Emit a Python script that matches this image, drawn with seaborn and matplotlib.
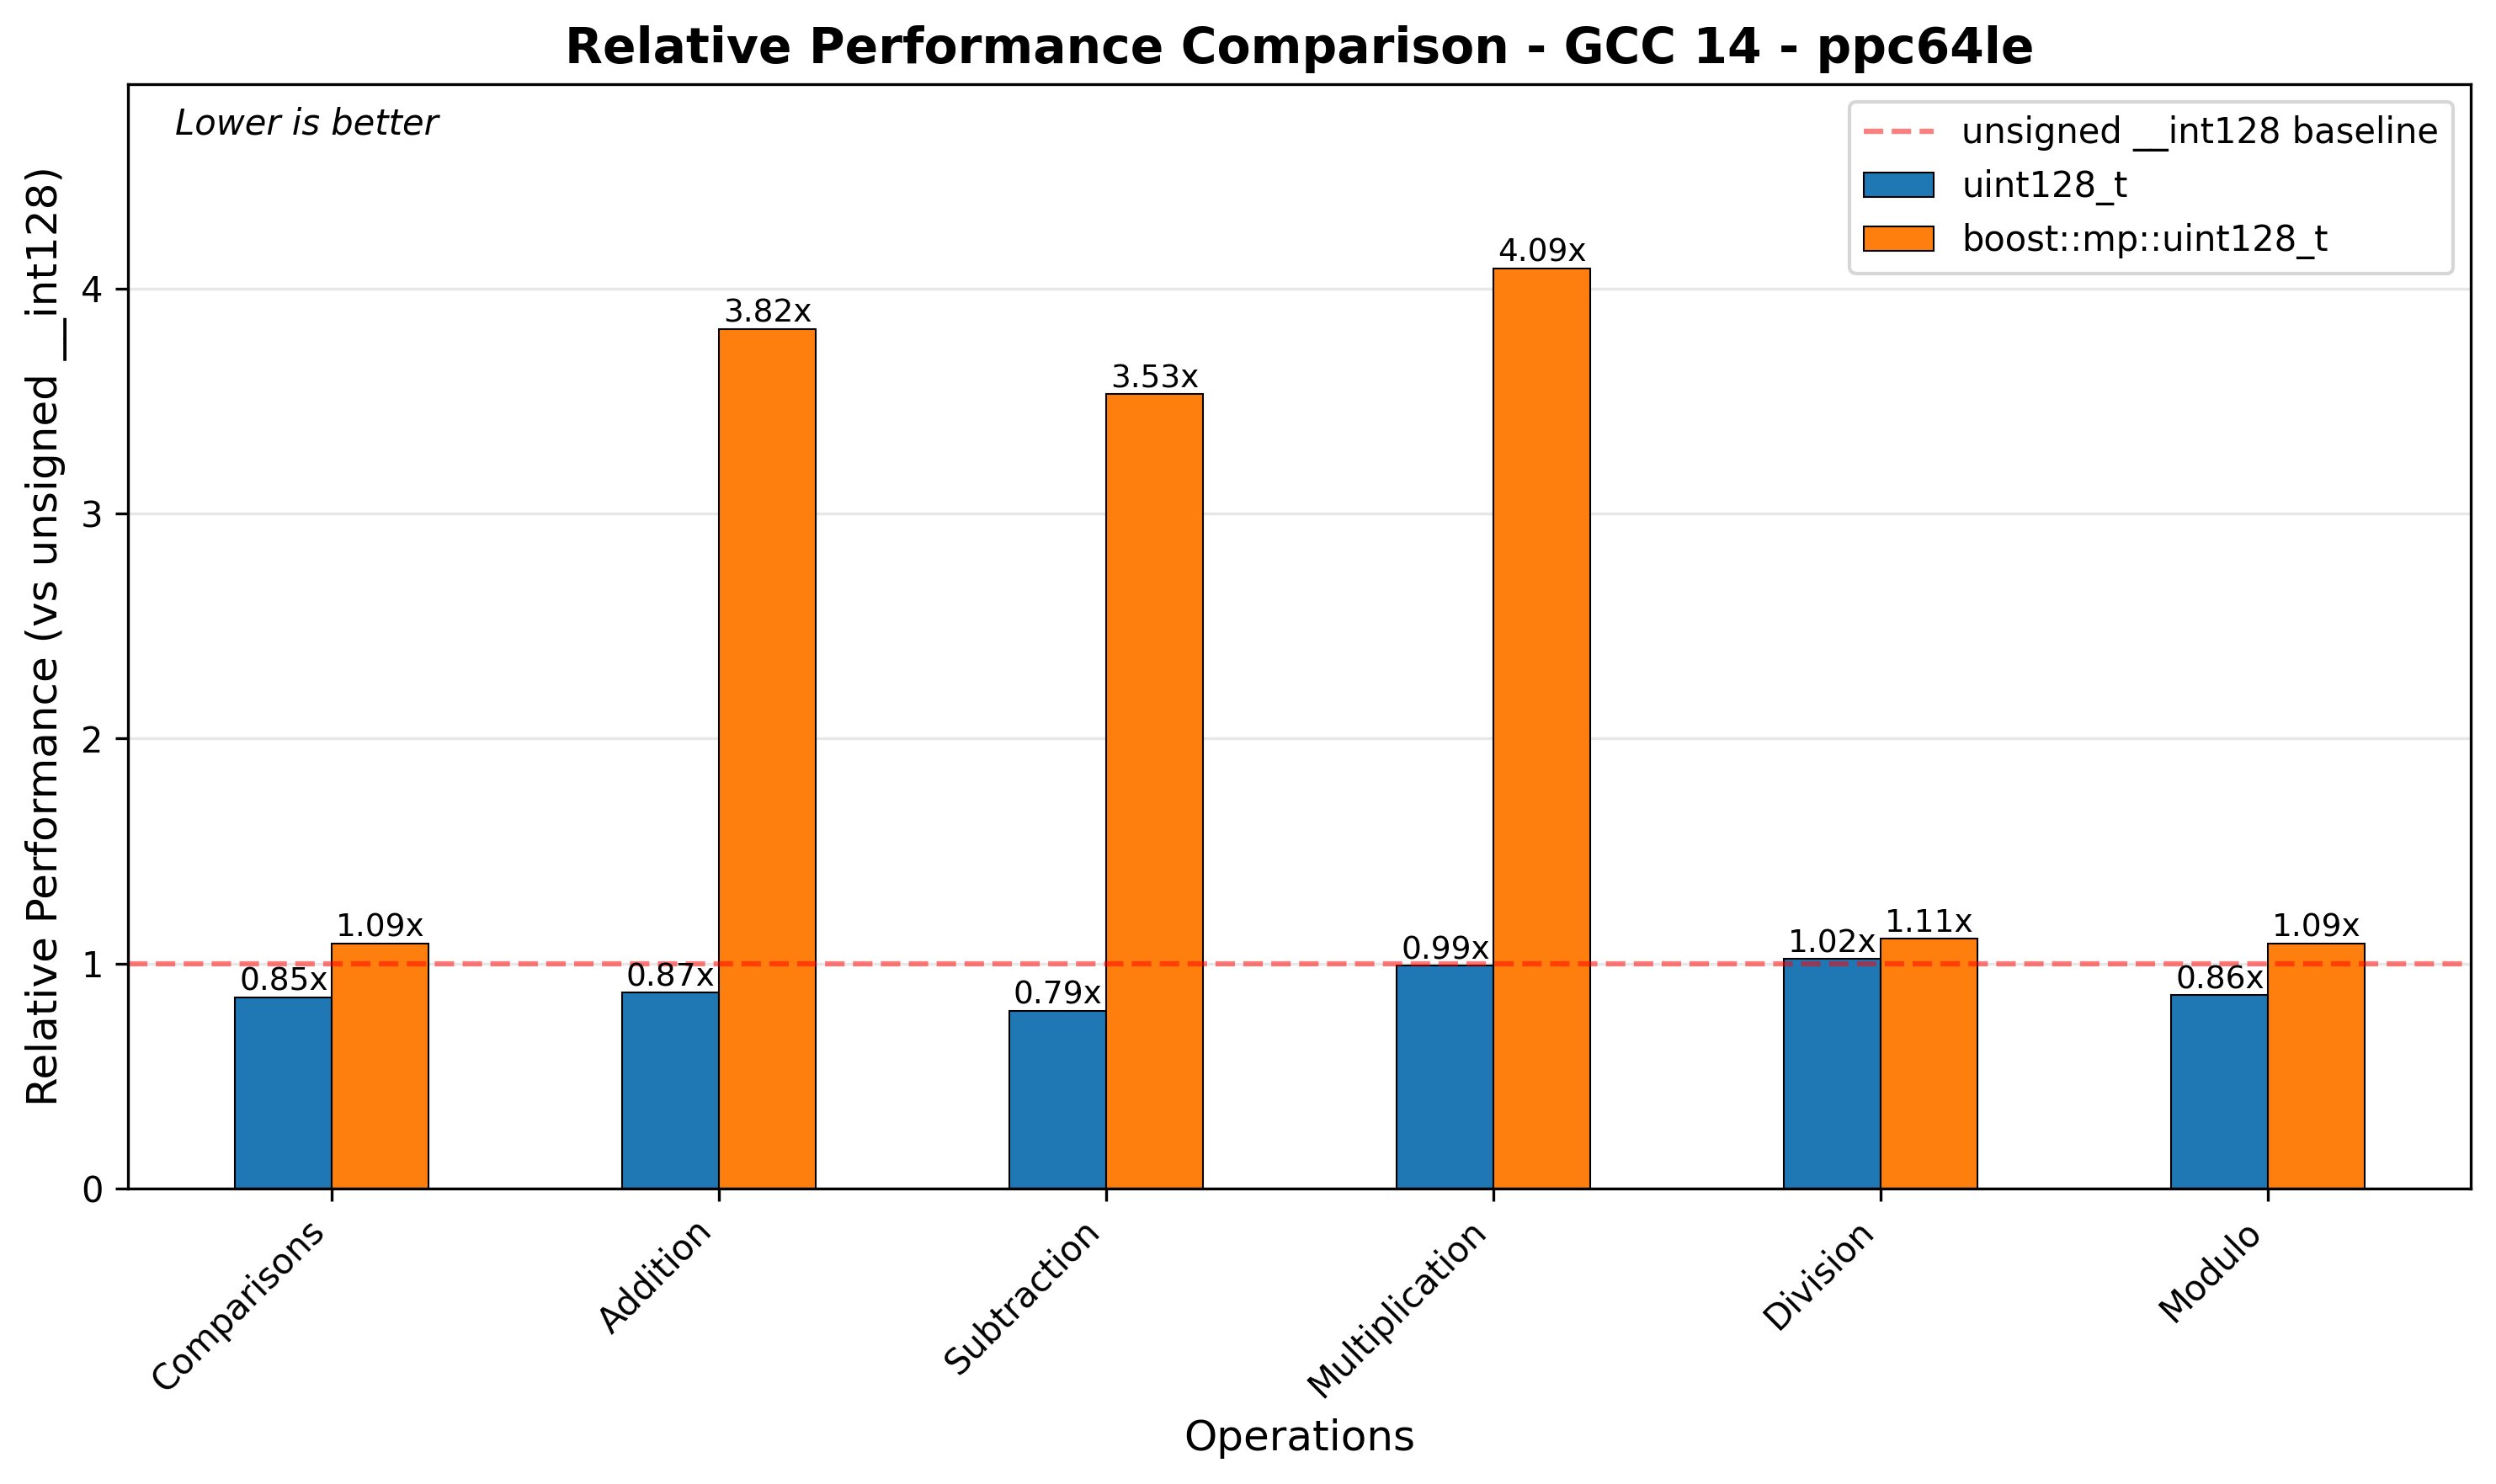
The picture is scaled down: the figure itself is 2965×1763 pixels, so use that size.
import pandas as pd
import matplotlib.pyplot as plt
import matplotlib.patches as mpatches
import seaborn as sns

operations = ["Comparisons", "Addition", "Subtraction", "Multiplication", "Division", "Modulo"]
uint128_t = [0.85, 0.87, 0.79, 0.99, 1.02, 0.86]
boost_uint128_t = [1.09, 3.82, 3.53, 4.09, 1.11, 1.09]
series_names = ["uint128_t", "boost::mp::uint128_t"]
colors = ["#1f77b4", "#ff7f0e"]

df = pd.DataFrame({
    "Operation": operations * 2,
    "Type": [series_names[0]] * len(operations) + [series_names[1]] * len(operations),
    "Value": uint128_t + boost_uint128_t,
})

W, H = 2965, 1763
fig, ax = plt.subplots(figsize=(W / 300, H / 300), dpi=300)
fig.subplots_adjust(left=152 / W, right=2935 / W, top=1 - 100 / H, bottom=1 - 1412 / H)

sns.barplot(data=df, x="Operation", y="Value", hue="Type", order=operations,
            hue_order=series_names, palette=colors, width=0.5, saturation=1,
            edgecolor="black", linewidth=0.5, legend=False, ax=ax)

baseline = ax.axhline(y=1.0, color="red", linestyle="--", linewidth=1.5, alpha=0.5,
                      label="unsigned __int128 baseline")

for container in ax.containers:
    ax.bar_label(container, fmt="%.2fx", fontsize=9)

ax.set_title("Relative Performance Comparison - GCC 14 - ppc64le", fontsize=14, fontweight="bold")
ax.set_xlabel("Operations", fontsize=12)
ax.set_ylabel("Relative Performance (vs unsigned __int128)", fontsize=12)
ax.set_ylim(0, max(boost_uint128_t) * 1.2)
ax.set_xlim(-0.527, len(operations) - 0.477)
plt.setp(ax.get_xticklabels(), rotation=45, ha="right")
ax.grid(axis="y", alpha=0.3)
ax.set_axisbelow(True)

ax.text(0.02, 0.98, "Lower is better", transform=ax.transAxes, fontsize=10,
        style="italic", va="top")

handles = [baseline] + [mpatches.Patch(facecolor=c, edgecolor="black", linewidth=0.5)
                        for c in colors]
ax.legend(handles, ["unsigned __int128 baseline"] + series_names, loc="upper right", fontsize=10)

plt.savefig("out.png", dpi=300)
